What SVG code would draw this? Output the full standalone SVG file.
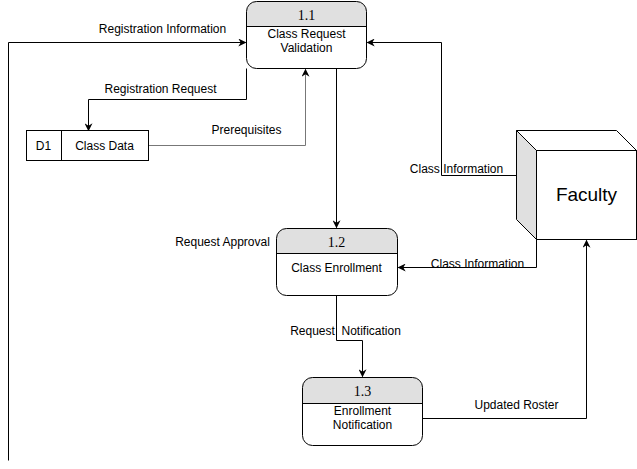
<svg xmlns="http://www.w3.org/2000/svg" width="637" height="469" viewBox="0 0 637 469">
<defs>
<marker id="arr" viewBox="0 0 10 10" refX="9" refY="5" markerWidth="8" markerHeight="8" markerUnits="userSpaceOnUse" orient="auto">
<path d="M0,0 L10,5 L0,10 L3,5 Z" fill="#000"/>
</marker>
</defs>
<style>
text{font-family:"Liberation Sans",Arial,sans-serif;font-size:12px;fill:#000}
.t{font-family:"Liberation Serif","Times New Roman",serif;font-size:14px}
.c{text-anchor:middle}
.ln{fill:none;stroke:#000;stroke-width:1}
.hd{fill:#e0e0e0;stroke:none}
.bx{fill:none;stroke:#000;stroke-width:1}
</style>
<rect width="637" height="469" fill="#fff"/>
<g transform="translate(0.5,0.5)">
<g id="connectors">
<path class="ln" d="M8,460 V42 H245" marker-end="url(#arr)"/>
<text x="162" y="32" class="c">Registration Information</text>
<path class="ln" d="M246,68 V99 H88 V130" marker-end="url(#arr)"/>
<text x="160" y="92" class="c">Registration Request</text>
<path class="ln" style="stroke:#777" d="M148,145 H305 V69" marker-end="url(#arr)"/>
<text x="246" y="133" class="c">Prerequisites</text>
<path class="ln" d="M336,68 V227" marker-end="url(#arr)"/>
<text x="222" y="245" class="c">Request Approval</text>
<path class="ln" d="M516,175 H441 V42 H367" marker-end="url(#arr)"/>
<text x="456" y="172" class="c">Class Information</text>
<path class="ln" d="M536,239 V267 H398" marker-end="url(#arr)"/>
<text x="477" y="267" class="c">Class Information</text>
<path class="ln" d="M336,295 V340 H362 V376" marker-end="url(#arr)"/>
<text x="345" y="334" class="c" xml:space="preserve">Request  Notification</text>
<path class="ln" d="M422,418 H586 V240" marker-end="url(#arr)"/>
<text x="516" y="408" class="c">Updated Roster</text>
</g>
<g id="p11">
<path class="hd" d="M246,26 V11 A10,10 0 0 1 256,1 H356 A10,10 0 0 1 366,11 V26 Z"/>
<rect class="bx" x="246" y="1" width="120" height="67" rx="10"/>
<line class="ln" x1="246" y1="26" x2="366" y2="26"/>
<text x="306" y="19" class="t c">1.1</text>
<text x="306" y="37" class="c">Class Request</text>
<text x="306" y="51" class="c">Validation</text>
</g>
<g id="d1">
<rect class="bx" x="26" y="130" width="122" height="30" fill="#fff"/>
<line class="ln" x1="61" y1="130" x2="61" y2="160"/>
<text x="43" y="149" class="c">D1</text>
<text x="104" y="149" class="c">Class Data</text>
</g>
<g id="p12">
<path class="hd" d="M276,253 V238 A10,10 0 0 1 286,228 H387 A10,10 0 0 1 397,238 V253 Z"/>
<rect class="bx" x="276" y="228" width="121" height="67" rx="10"/>
<line class="ln" x1="276" y1="253" x2="397" y2="253"/>
<text x="336" y="246" class="t c">1.2</text>
<text x="336" y="271" class="c">Class Enrollment</text>
</g>
<g id="p13">
<path class="hd" d="M302,403 V387 A10,10 0 0 1 312,377 H412 A10,10 0 0 1 422,387 V403 Z"/>
<rect class="bx" x="302" y="377" width="120" height="68" rx="10"/>
<line class="ln" x1="302" y1="403" x2="422" y2="403"/>
<text x="362" y="395" class="t c">1.3</text>
<text x="362" y="414" class="c">Enrollment</text>
<text x="362" y="428" class="c">Notification</text>
</g>
<g id="faculty">
<polygon points="516,130 536,150 536,239 516,219" fill="#e0e0e0" stroke="#000" stroke-width="1"/>
<polygon points="516,130 616,130 636,150 536,150" fill="#fff" stroke="#000" stroke-width="1"/>
<rect x="536" y="150" width="100" height="89" fill="#fff" stroke="#000" stroke-width="1"/>
<text x="586" y="200" class="c" style="font-size:19px">Faculty</text>
</g>
</g>
</svg>
